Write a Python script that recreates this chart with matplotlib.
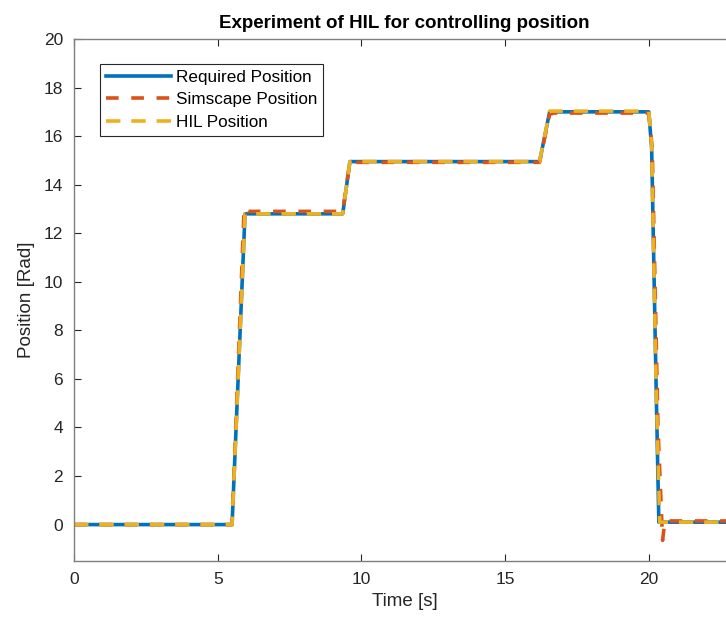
import matplotlib
matplotlib.use("Agg")
import matplotlib.pyplot as plt

# values
req_t = [0, 5.5, 5.95, 9.35, 9.6, 16.2, 16.55, 20.0, 20.1, 20.25, 20.35, 23.0]
req_v = [0, 0, 12.8, 12.8, 14.95, 14.95, 17.0, 17.0, 15.5, 6.0, 0.1, 0.1]

sim_t = [0, 5.5, 5.92, 6.05, 6.3, 9.35, 9.6, 9.75, 16.2, 16.55, 16.7,
         20.0, 20.12, 20.32, 20.48, 20.56, 23.0]
sim_v = [0, 0, 13.05, 12.9, 12.9, 12.9, 14.95, 14.92, 14.92, 16.9, 16.95,
         16.95, 15.5, 4.0, -0.65, 0.15, 0.15]

hil_t = [0, 5.5, 5.95, 9.35, 9.6, 16.2, 16.55, 20.0, 20.1, 20.25, 20.38, 23.0]
hil_v = [0, 0, 12.8, 12.8, 14.95, 14.95, 17.03, 17.03, 15.6, 6.0, 0.1, 0.1]

labels = ["Required Position", "Simscape Position", "HIL Position"]

plt.rcParams["font.family"] = ["Liberation Sans", "DejaVu Sans"]

fig = plt.figure(figsize=(7.26, 6.3), dpi=100)
ax = fig.add_axes([74 / 726, 1 - 561 / 630, (735 - 74) / 726, (561 - 39) / 630])

ax.plot(req_t, req_v, color="#0072BD", lw=2.6, label=labels[0])
ax.plot(sim_t, sim_v, color="#D95319", lw=2.6, dashes=(3.5, 3.5),
        label=labels[1])
ax.plot(hil_t, hil_v, color="#EDB120", lw=2.6, dashes=(4, 3.0),
        label=labels[2])

ax.set_xlim(0, 23)
ax.set_ylim(-1.5, 20)
ax.set_xticks([0, 5, 10, 15, 20])
ax.set_yticks(range(0, 21, 2))
ax.tick_params(direction="in", top=True, right=True, labelsize=12.5,
               colors="#262626", length=5, width=0.8, pad=8)
for sp in ax.spines.values():
    sp.set_color("#7f7f7f")
    sp.set_linewidth(1.0)

ax.set_xlabel("Time [s]", fontsize=13.5, color="#262626", labelpad=4)
ax.set_ylabel("Position [Rad]", fontsize=13.5, color="#262626", labelpad=6)
ax.set_title("Experiment of HIL for controlling position", fontsize=13.5,
             fontweight="bold", pad=8)

leg = ax.legend(loc="upper left", bbox_to_anchor=(0.027, 0.969),
                fontsize=12.3, handlelength=3.8, handletextpad=0.25,
                labelspacing=0.45, borderpad=0.35, fancybox=False,
                framealpha=1, edgecolor="#262626")
leg.get_frame().set_linewidth(0.8)

fig.savefig("out.png", dpi=100)
